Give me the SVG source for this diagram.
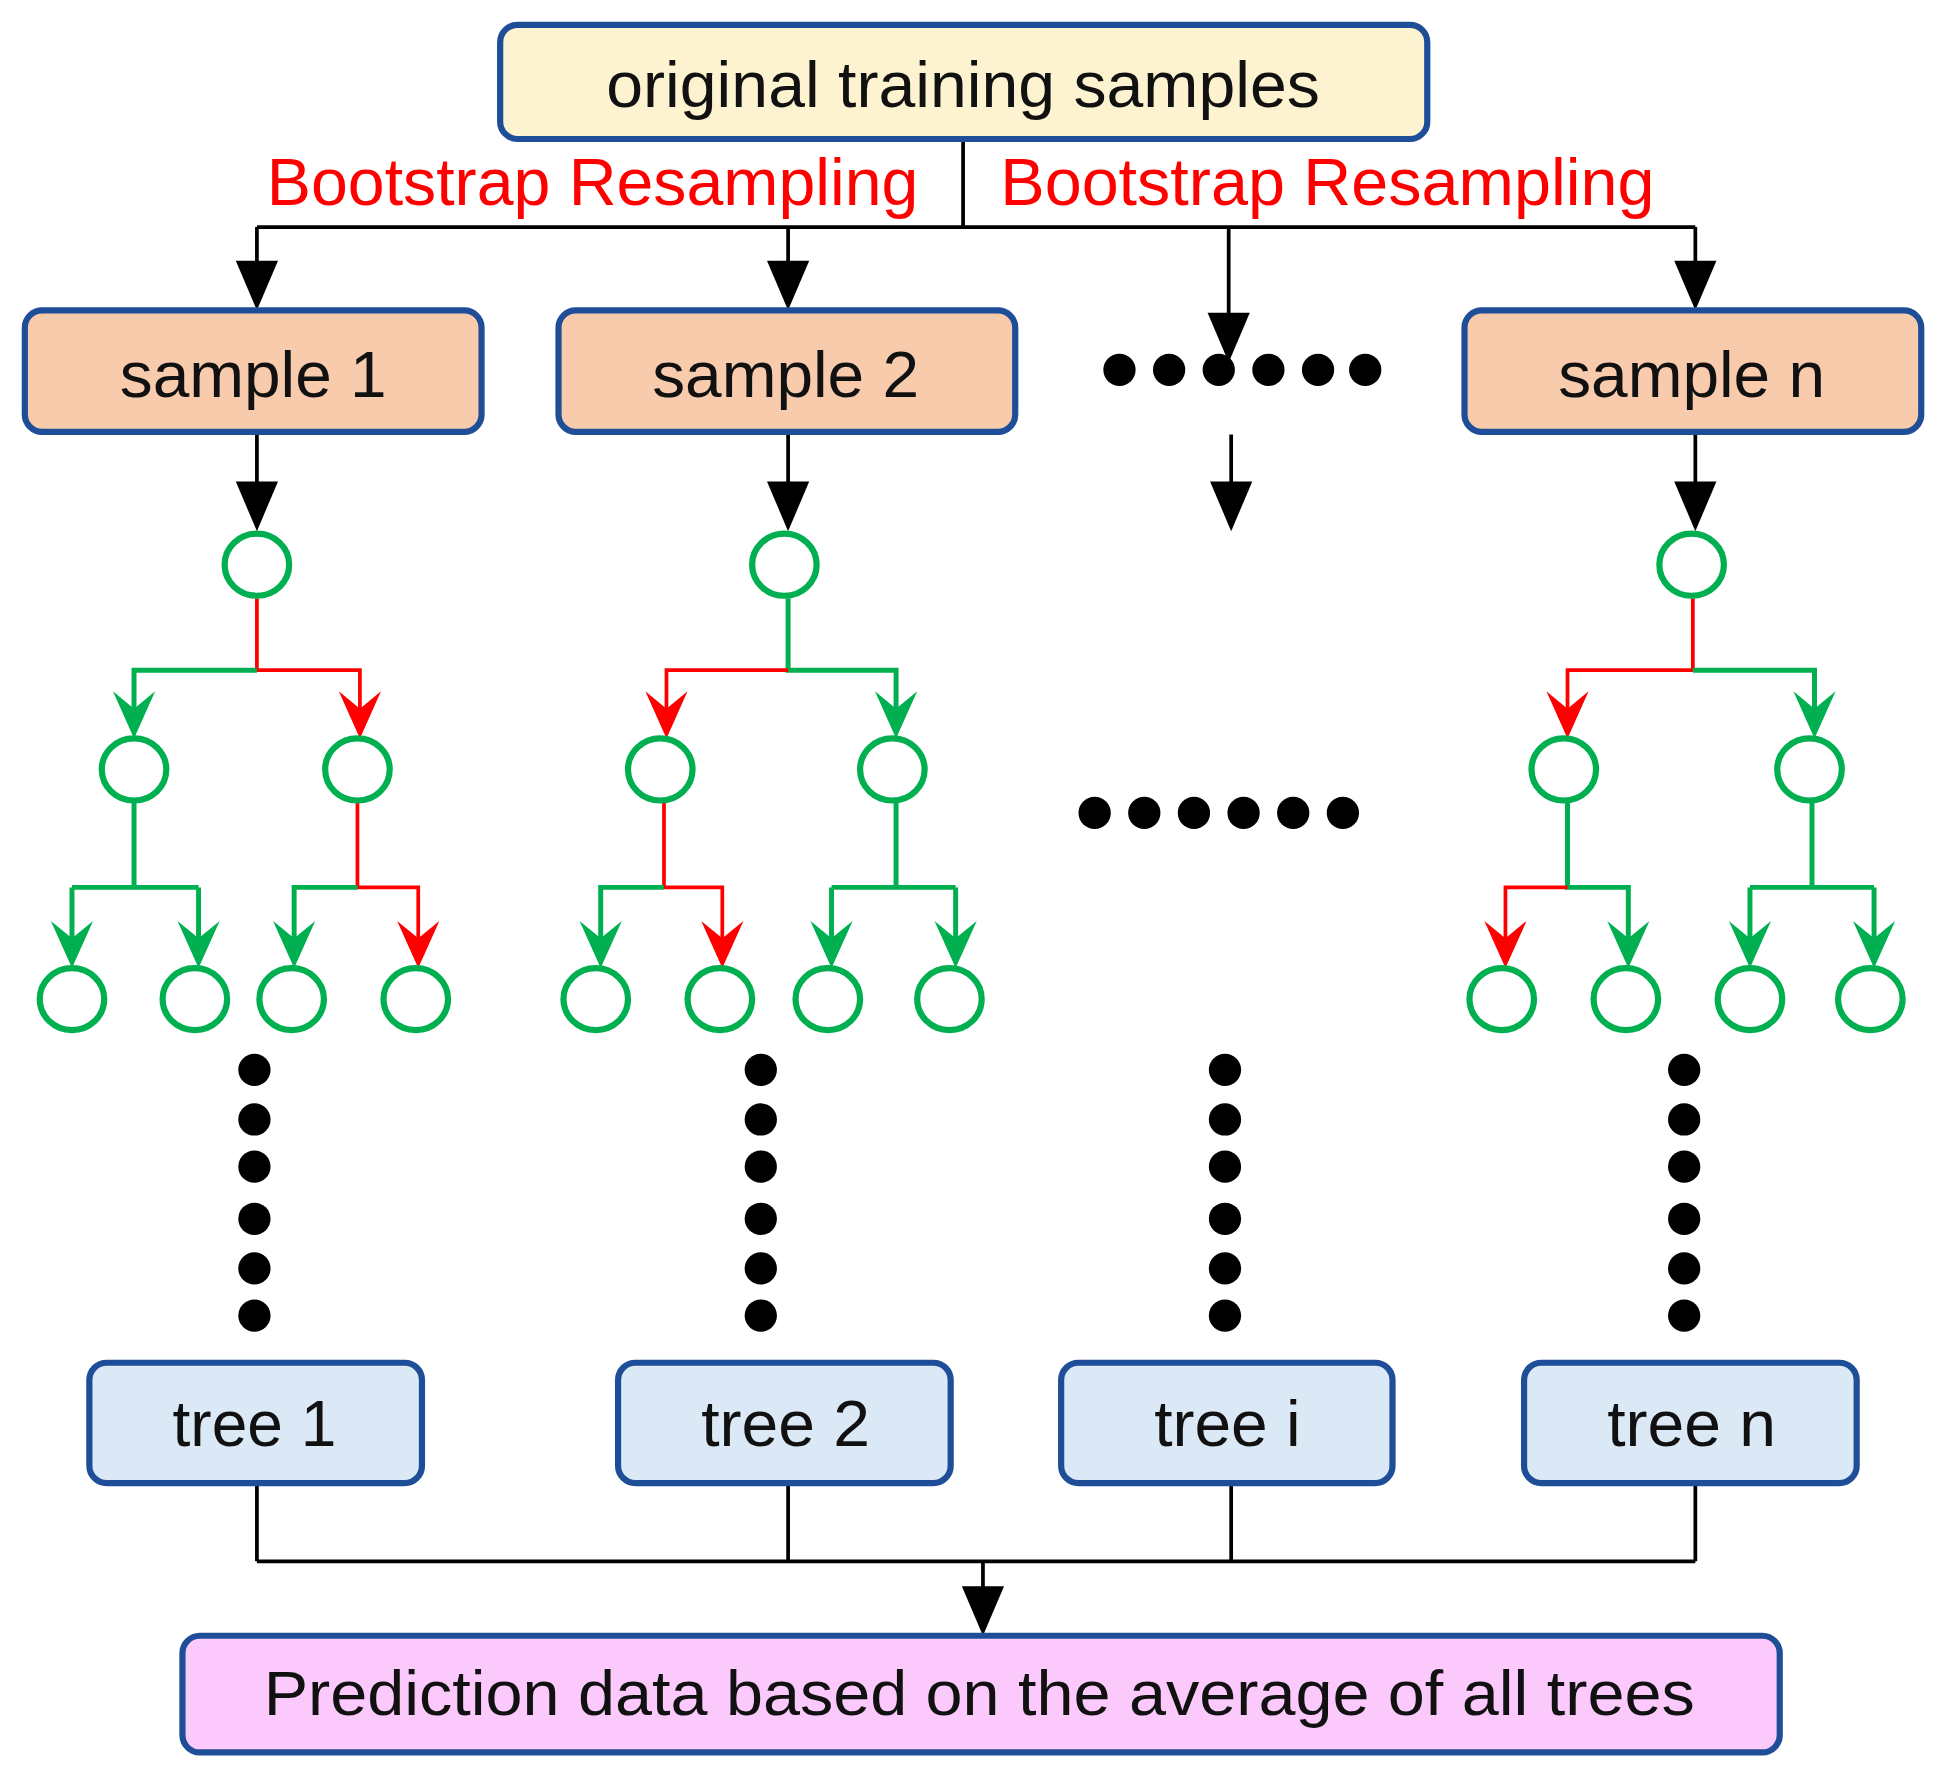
<svg xmlns="http://www.w3.org/2000/svg" width="1946" height="1782" viewBox="0 0 1946 1782">
<style>
.box{stroke:#1f4e99;stroke-width:5}
.t{font-family:"Liberation Sans Narrow","Liberation Sans",Arial,sans-serif;fill:#111;text-anchor:middle}
.r{font-family:"Liberation Sans Narrow","Liberation Sans",Arial,sans-serif;fill:#ff0000;font-size:54px}
.k{stroke:#000;stroke-width:3;fill:none}
.g{stroke:#00b050;stroke-width:4;fill:none}
.rd{stroke:#ff0000;stroke-width:3;fill:none}
.c{stroke:#00b050;stroke-width:5;fill:#fff}
.ka{fill:#000}.ga{fill:#00b050}.ra{fill:#ff0000}
</style>
<defs>
<path id="ah" d="M-17,-40 L17,-40 L0,0 Z"/>
<path id="sh" d="M-17,-38 L0,-24 L17,-38 L0,0 Z"/>
<circle id="d" r="13"/>
</defs>
<rect width="1946" height="1782" fill="#fff"/>
<g transform="scale(1.2411)">
<g id="connectors">
<path class="k" d="M776,112V183M207,183H1366M207,183V215M635,183V215M990,183V255M1366,183V215"/>
<use href="#ah" x="207" y="250" class="ka"/><use href="#ah" x="635" y="250" class="ka"/><use href="#ah" x="990" y="292" class="ka"/><use href="#ah" x="1366" y="250" class="ka"/>
<path class="k" d="M207,348V390M635,348V390M992,350V390M1366,348V390"/>
<use href="#ah" x="207" y="428" class="ka"/><use href="#ah" x="635" y="428" class="ka"/><use href="#ah" x="992" y="428" class="ka"/><use href="#ah" x="1366" y="428" class="ka"/>
<path class="rd" d="M207,482V540H290V575"/>
<path class="g" d="M207,540H108V575"/>
<path class="g" d="M108,646V715M58,715H160M58,715V760M160,715V760"/>
<path class="rd" d="M288,646V715H337V760"/>
<path class="g" d="M288,715H237V760"/>
<use href="#sh" x="108" y="595" class="ga"/><use href="#sh" x="290" y="595" class="ra"/>
<use href="#sh" x="58" y="780" class="ga"/><use href="#sh" x="160" y="780" class="ga"/><use href="#sh" x="237" y="780" class="ga"/><use href="#sh" x="337" y="780" class="ra"/>
<path class="g" d="M635,482V540H722V575"/>
<path class="rd" d="M635,540H537V575"/>
<path class="rd" d="M535,646V715H582V760"/>
<path class="g" d="M535,715H484V760"/>
<path class="g" d="M722,646V715M670,715H770M670,715V760M770,715V760"/>
<use href="#sh" x="537" y="595" class="ra"/><use href="#sh" x="722" y="595" class="ga"/>
<use href="#sh" x="484" y="780" class="ga"/><use href="#sh" x="582" y="780" class="ra"/><use href="#sh" x="670" y="780" class="ga"/><use href="#sh" x="770" y="780" class="ga"/>
<path class="rd" d="M1364,482V540H1263V575"/>
<path class="g" d="M1364,540H1462V575"/>
<path class="g" d="M1263,646V715H1312V760"/>
<path class="rd" d="M1263,715H1213V760"/>
<path class="g" d="M1460,646V715M1410,715H1510M1410,715V760M1510,715V760"/>
<use href="#sh" x="1263" y="595" class="ra"/><use href="#sh" x="1462" y="595" class="ga"/>
<use href="#sh" x="1213" y="780" class="ra"/><use href="#sh" x="1312" y="780" class="ga"/><use href="#sh" x="1410" y="780" class="ga"/><use href="#sh" x="1510" y="780" class="ga"/>
<path class="k" d="M207,1195V1258M635,1195V1258M992,1195V1258M1366,1195V1258M207,1258H1366M792,1258V1282"/>
<use href="#ah" x="792" y="1318" class="ka"/>
</g>
<g id="circles">
<ellipse class="c" cx="207" cy="455" rx="26" ry="25"/><ellipse class="c" cx="632" cy="455" rx="26" ry="25"/><ellipse class="c" cx="1363" cy="455" rx="26" ry="25"/>
<ellipse class="c" cx="108" cy="620" rx="26" ry="25"/><ellipse class="c" cx="288" cy="620" rx="26" ry="25"/>
<ellipse class="c" cx="532" cy="620" rx="26" ry="25"/><ellipse class="c" cx="719" cy="620" rx="26" ry="25"/>
<ellipse class="c" cx="1260" cy="620" rx="26" ry="25"/><ellipse class="c" cx="1458" cy="620" rx="26" ry="25"/>
<ellipse class="c" cx="58" cy="805" rx="26" ry="25"/><ellipse class="c" cx="157" cy="805" rx="26" ry="25"/><ellipse class="c" cx="235" cy="805" rx="26" ry="25"/><ellipse class="c" cx="335" cy="805" rx="26" ry="25"/>
<ellipse class="c" cx="480" cy="805" rx="26" ry="25"/><ellipse class="c" cx="580" cy="805" rx="26" ry="25"/><ellipse class="c" cx="667" cy="805" rx="26" ry="25"/><ellipse class="c" cx="765" cy="805" rx="26" ry="25"/>
<ellipse class="c" cx="1210" cy="805" rx="26" ry="25"/><ellipse class="c" cx="1310" cy="805" rx="26" ry="25"/><ellipse class="c" cx="1410" cy="805" rx="26" ry="25"/><ellipse class="c" cx="1507" cy="805" rx="26" ry="25"/>
</g>
<g id="dots" fill="#000">
<use href="#d" x="902" y="298"/><use href="#d" x="942" y="298"/><use href="#d" x="982" y="298"/><use href="#d" x="1022" y="298"/><use href="#d" x="1062" y="298"/><use href="#d" x="1100" y="298"/>
<use href="#d" x="882" y="655"/><use href="#d" x="922" y="655"/><use href="#d" x="962" y="655"/><use href="#d" x="1002" y="655"/><use href="#d" x="1042" y="655"/><use href="#d" x="1082" y="655"/>
<g id="col1"><use href="#d" x="205" y="862"/><use href="#d" x="205" y="902"/><use href="#d" x="205" y="940"/><use href="#d" x="205" y="982"/><use href="#d" x="205" y="1022"/><use href="#d" x="205" y="1060"/></g>
<use href="#col1" x="408"/><use href="#col1" x="782"/><use href="#col1" x="1152"/>
</g>
<g id="top"><rect class="box" x="403" y="20" width="747" height="92" rx="14" fill="#fdf3d0"/><text class="t" x="776" y="86" font-size="52" textLength="575" lengthAdjust="spacingAndGlyphs">original training samples</text></g>
<text class="r" x="215" y="165" textLength="525" lengthAdjust="spacingAndGlyphs">Bootstrap Resampling</text>
<text class="r" x="806" y="165" textLength="527" lengthAdjust="spacingAndGlyphs">Bootstrap Resampling</text>
<g id="s1"><rect class="box" x="20" y="250" width="368" height="98" rx="14" fill="#f9cbad"/><text class="t" x="204" y="320" font-size="52" textLength="215" lengthAdjust="spacingAndGlyphs">sample 1</text></g>
<g id="s2"><rect class="box" x="450" y="250" width="368" height="98" rx="14" fill="#f9cbad"/><text class="t" x="633" y="320" font-size="52" textLength="215" lengthAdjust="spacingAndGlyphs">sample 2</text></g>
<g id="sn"><rect class="box" x="1180" y="250" width="368" height="98" rx="14" fill="#f9cbad"/><text class="t" x="1363" y="320" font-size="52" textLength="215" lengthAdjust="spacingAndGlyphs">sample n</text></g>
<g id="t1"><rect class="box" x="72" y="1098" width="268" height="97" rx="14" fill="#dbe9f6"/><text class="t" x="205" y="1165" font-size="52" textLength="132" lengthAdjust="spacingAndGlyphs">tree 1</text></g>
<g id="t2"><rect class="box" x="498" y="1098" width="268" height="97" rx="14" fill="#dbe9f6"/><text class="t" x="633" y="1165" font-size="52" textLength="136" lengthAdjust="spacingAndGlyphs">tree 2</text></g>
<g id="ti"><rect class="box" x="855" y="1098" width="267" height="97" rx="14" fill="#dbe9f6"/><text class="t" x="989" y="1165" font-size="52" textLength="118" lengthAdjust="spacingAndGlyphs">tree i</text></g>
<g id="tn"><rect class="box" x="1228" y="1098" width="268" height="97" rx="14" fill="#dbe9f6"/><text class="t" x="1363" y="1165" font-size="52" textLength="136" lengthAdjust="spacingAndGlyphs">tree n</text></g>
<g id="pred"><rect class="box" x="147" y="1318" width="1287" height="94" rx="14" fill="#fcc9fc"/><text class="t" x="789" y="1382" font-size="50" textLength="1153" lengthAdjust="spacingAndGlyphs">Prediction data based on the average of all trees</text></g>
</g>
</svg>
